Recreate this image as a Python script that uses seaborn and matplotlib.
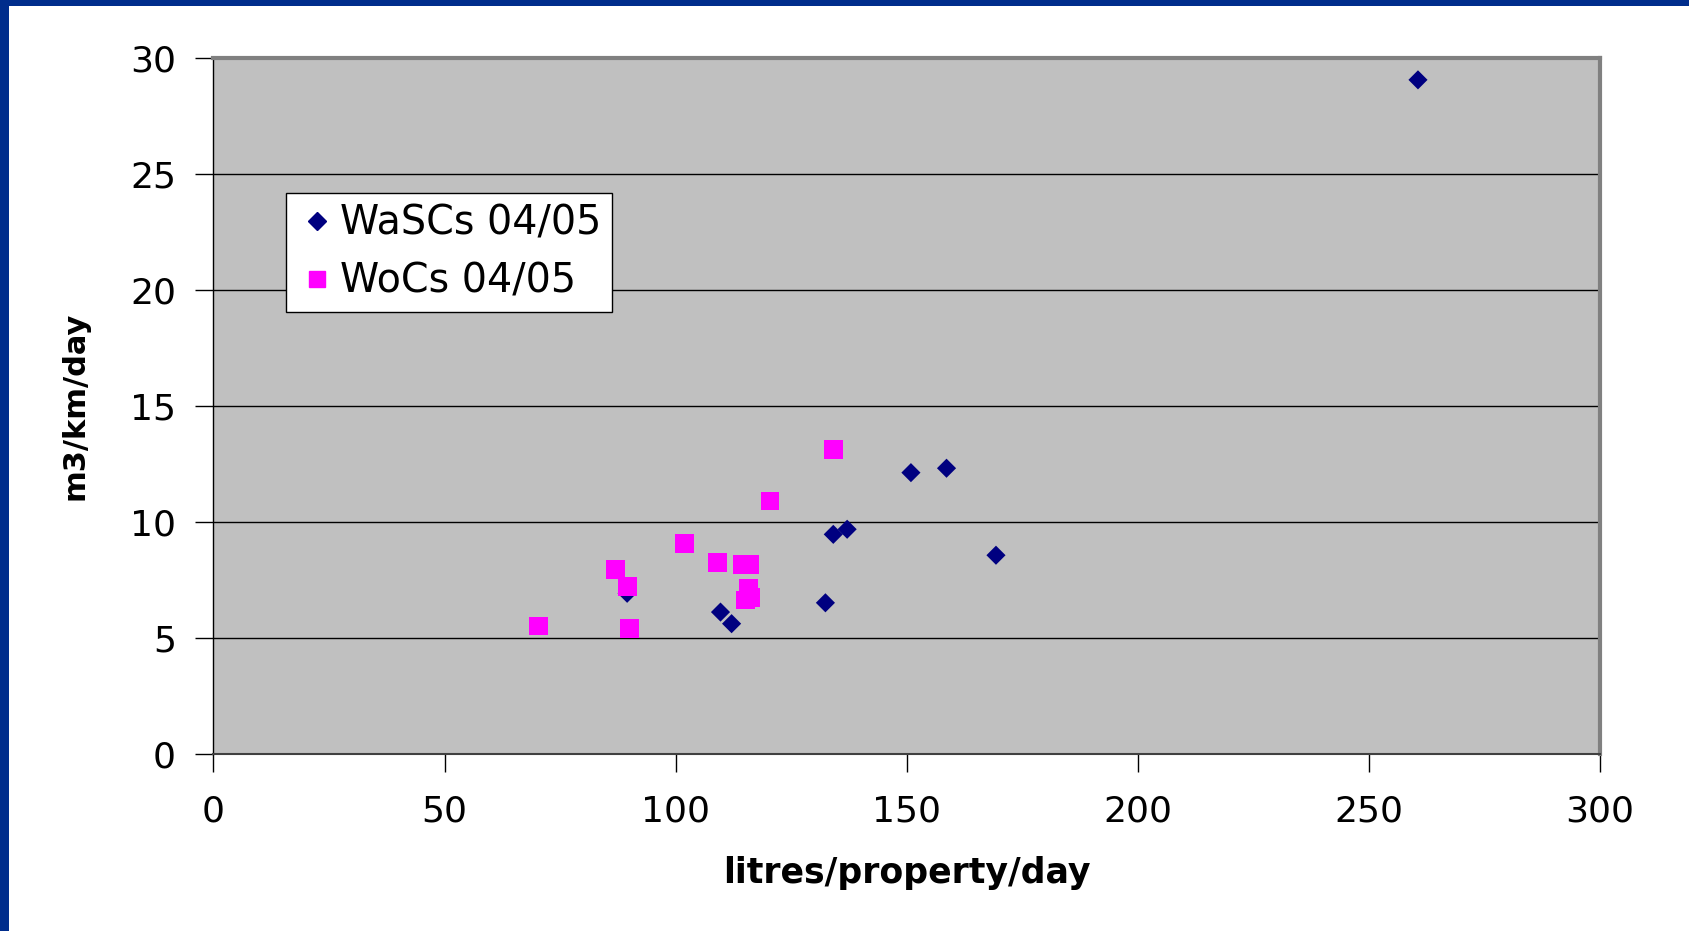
import pandas as pd
import matplotlib
matplotlib.use("Agg")
import matplotlib.pyplot as plt
import seaborn as sns
from matplotlib.patches import Rectangle
from matplotlib.lines import Line2D

# leakage per property vs leakage per km of main
wascs_x = [260.6, 150.9, 158.6, 134.1, 137.1, 169.3, 132.4, 109.7, 112.1, 89.5]
wascs_y = [29.07, 12.14, 12.33, 9.48, 9.70, 8.58, 6.53, 6.13, 5.63, 6.94]

wocs_x = [70.4, 87.0, 89.5, 90.0, 102.0, 109.1, 114.4, 115.9, 115.7, 116.3, 115.1, 120.4, 134.2]
wocs_y = [5.53, 7.97, 7.25, 5.43, 9.09, 8.26, 8.17, 8.17, 7.16, 6.75, 6.65, 10.92, 13.15]

series_names = ['WaSCs 04/05', 'WoCs 04/05']
x_ticks = [0, 50, 100, 150, 200, 250, 300]
y_ticks = [0, 5, 10, 15, 20, 25, 30]

df = pd.concat([
    pd.DataFrame({'lpd': wascs_x, 'm3': wascs_y, 'group': series_names[0]}),
    pd.DataFrame({'lpd': wocs_x, 'm3': wocs_y, 'group': series_names[1]}),
], ignore_index=True)

colors = {series_names[0]: '#000080', series_names[1]: '#FF00FF'}
markers = {series_names[0]: 'D', series_names[1]: 's'}
sizes = {series_names[0]: 95, series_names[1]: 185}

sns.set_style('white')
plt.rcParams['font.family'] = ['DejaVu Sans']
plt.rcParams['text.color'] = 'black'
plt.rcParams['axes.labelcolor'] = 'black'
plt.rcParams['xtick.color'] = 'black'
plt.rcParams['ytick.color'] = 'black'

fig = plt.figure(figsize=(16.9, 9.31), dpi=100)
ax = fig.add_axes([0.1263, 0.1898, 0.8205, 0.7476])
ax.set_facecolor('#C0C0C0')

sns.scatterplot(data=df, x='lpd', y='m3', hue='group', style='group', size='group',
                palette=colors, markers=markers, sizes=sizes, linewidth=0,
                legend=False, ax=ax, zorder=3)

ax.set_xlim(0, 300)
ax.set_ylim(0, 30)
ax.set_xticks(x_ticks)
ax.set_yticks(y_ticks)
ax.yaxis.grid(True, color='black', linewidth=1)
ax.xaxis.grid(False)
ax.set_axisbelow(True)
ax.tick_params(axis='both', direction='out', length=13, width=1, color='black',
               labelsize=26, left=True, bottom=True)
ax.tick_params(axis='y', pad=14)
ax.tick_params(axis='x', pad=16)

ax.spines['left'].set_color('black')
ax.spines['left'].set_linewidth(1)
ax.spines['bottom'].set_color('#404040')
ax.spines['bottom'].set_linewidth(1.5)
for side in ['top', 'right']:
    ax.spines[side].set_color('#808080')
    ax.spines[side].set_linewidth(3)

ax.set_xlabel('litres/property/day', fontsize=25, fontweight='bold', va='center')
ax.xaxis.set_label_coords(0.5, -0.1706)
ax.set_ylabel('m3/km/day', fontsize=22, fontweight='bold', va='center', ha='center')
ax.yaxis.set_label_coords(-0.0998, 0.5)

handles = [Line2D([], [], linestyle='none', marker=markers[n], color=colors[n],
                  markersize=(9 if n == series_names[0] else 12)) for n in series_names]
leg = ax.legend(handles, series_names, loc='upper left', bbox_to_anchor=(0.0524, 0.8065),
                borderaxespad=0, fontsize=28.5, frameon=True, fancybox=False,
                framealpha=1, edgecolor='black', handlelength=1.0,
                handletextpad=0.1, borderpad=0.27, labelspacing=0.45)
leg.get_frame().set_linewidth(1)

# slide frame
fig.patches.append(Rectangle((0, 0), 9 / 1690, 1, transform=fig.transFigure,
                             facecolor='#002D8C', edgecolor='none'))
fig.patches.append(Rectangle((0, 1 - 6 / 931), 1, 6 / 931, transform=fig.transFigure,
                             facecolor='#002D8C', edgecolor='none'))

fig.savefig('out.png', dpi=100)
